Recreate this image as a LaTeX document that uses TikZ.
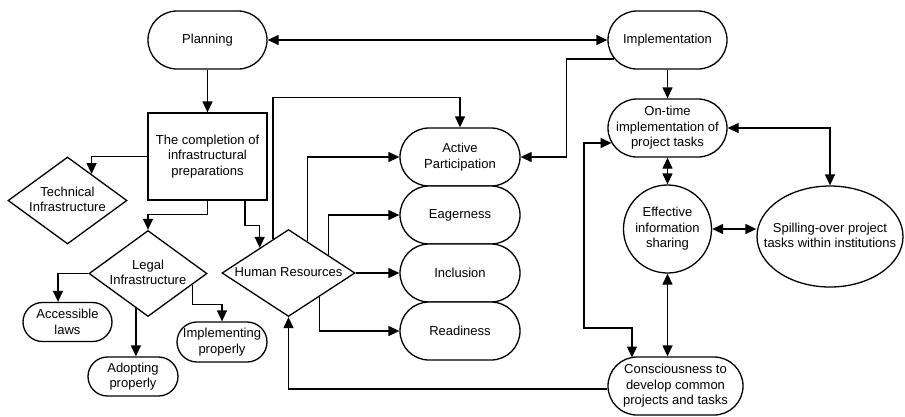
\documentclass[tikz,border=0pt]{standalone}
\usepackage{fontspec}
\setmainfont{Liberation Sans}
\usetikzlibrary{shapes.geometric,arrows.meta,calc}
\newcommand\fs{\fontsize{13}{15.5}\selectfont}
\newcommand\ctrtext[1]{\makebox[0pt]{\raisebox{-3.25pt}[0pt][0pt]{\begin{tabular}{@{}c@{}}#1\end{tabular}}}}
\begin{document}
\begin{tikzpicture}[x=1pt,y=-1pt, line width=1.3pt,
  every node/.style={font=\fs, align=center},
  arr/.style={-{Triangle[length=11pt,width=10pt]}},
  darr/.style={{Triangle[length=11pt,width=10pt]}-{Triangle[length=11pt,width=10pt]}},
  pill/.style={draw, rectangle, rounded corners=#1, inner sep=1pt, fill=white},
  dia/.style={draw, diamond, inner sep=0pt, fill=white},
  box/.style={draw, rectangle, inner sep=2pt, fill=white}]
\fill[white] (0,0) rectangle (905,416);
\useasboundingbox (0,0) rectangle (905,416);

% nodes
\node[pill=29pt, minimum width=119pt, minimum height=58pt] (plan) at (207.5,40) {Planning};
\node[pill=29pt, minimum width=119pt, minimum height=58pt] (impl) at (667.5,40) {Implementation};
\node[box, minimum width=119pt, minimum height=87pt] (comp) at (207.5,156.5) {The completion of\\infrastructural\\preparations};
\node[dia, minimum width=119pt, minimum height=87pt] (tech) at (67.5,200.5) {\ctrtext{Technical\\Infrastructure}};
\node[dia, minimum width=118pt, minimum height=86pt] (legal) at (148,273.5) {\ctrtext{Legal\\Infrastructure}};
\node[dia, minimum width=133pt, minimum height=87pt] (hr) at (288.5,273) {\ctrtext{Human Resources}};
\node[pill=19.5pt, minimum width=89pt, minimum height=39pt] (acc) at (67.5,322) {Accessible\\laws};
\node[pill=19.5pt, minimum width=90pt, minimum height=39pt] (adopt) at (133,376.5) {Adopting\\properly};
\node[pill=20pt, minimum width=90pt, minimum height=40pt] (implp) at (222,342) {Implementing\\properly};
\node[pill=29pt, minimum width=120pt, minimum height=58pt] (ap) at (460,157) {Active\\Participation};
\node[pill=29pt, minimum width=120pt, minimum height=58pt] (eag) at (460,215) {Eagerness};
\node[pill=29pt, minimum width=120pt, minimum height=58pt] (inc) at (460,273) {Inclusion};
\node[pill=29pt, minimum width=120pt, minimum height=58pt] (rdy) at (460,331) {Readiness};
\node[pill=29pt, minimum width=119pt, minimum height=58pt] (ot) at (667.5,128) {On-time\\implementation of\\project tasks};
\node[draw, circle, fill=white, inner sep=0pt, minimum size=88pt] (eff) at (667.5,229) {Effective\\information\\sharing};
\node[draw, ellipse, fill=white, inner sep=0pt, minimum width=146pt, minimum height=101pt] (sp) at (830,236.5) {\ctrtext{Spilling-over project\\tasks within institutions}};
\node[pill=29pt, minimum width=135pt, minimum height=58pt] (cons) at (675.5,386) {Consciousness to\\develop common\\projects and tasks};

% edge points
\coordinate (techE) at ($(tech.north)!0.4!(tech.east)$);
\coordinate (hrA) at ($(hr.west)!0.571!(hr.north)$);
\coordinate (hrB) at ($(hr.west)!0.767!(hr.north)$);
\coordinate (hrC) at ($(hr.north)!0.278!(hr.east)$);
\coordinate (hrD) at ($(hr.north)!0.594!(hr.east)$);
\coordinate (hrE) at ($(hr.east)!0.541!(hr.south)$);
\coordinate (lgA) at ($(legal.west)!0.797!(legal.south)$);
\coordinate (lgB) at ($(legal.east)!0.254!(legal.south)$);
\coordinate (implL) at ($(impl.west)+(7.1,19)$);
\coordinate (otL) at ($(ot.west)+(4.2,15)$);
\coordinate (consT) at (632,357.5);

% connectors
\draw[darr] (plan.east) -- (impl.west);
\draw[arr] (plan.south) -- (comp.north);
\draw[arr] (comp.west) -| (techE);
\draw[arr] (comp.south) -- ++(0,14) -| (legal.north);
\draw[arr] ($(comp.south)+(37.5,0)$) -- ++(0,25) -| (hrA);
\draw[arr] (legal.west) -| ($(acc.north)+(-9.5,0)$);
\draw[arr] (lgA) -- (lgA |- adopt.north);
\draw[arr] (lgB) -- ++(0,20) -| (implp.north);
\draw[arr] (hrB) |- ($(ap.north)+(0,-30)$) -- (ap.north);
\draw[arr] (hrC) |- (ap.west);
\draw[arr] (hrD) |- (eag.west);
\draw[arr] (hr.east) -- (inc.west);
\draw[arr] (hrE) |- (rdy.west);
\draw[arr] (implL) -| ($(ap.east)+(46,0)$) -- (ap.east);
\draw[arr] (impl.south) -- (ot.north);
\draw[darr] (ot.south) -- (eff.north);
\draw[darr] (ot.east) -| (sp.north);
\draw[darr] (eff.east) -- (eff.east -| sp.west);
\draw[darr] (eff.south) -- (eff.south |- cons.north);
\draw[arr] ($(cons.west)+(0,3)$) -| (hr.south);
\draw[darr] (otL) -| (584,328) -| (consT);
\end{tikzpicture}
\end{document}
